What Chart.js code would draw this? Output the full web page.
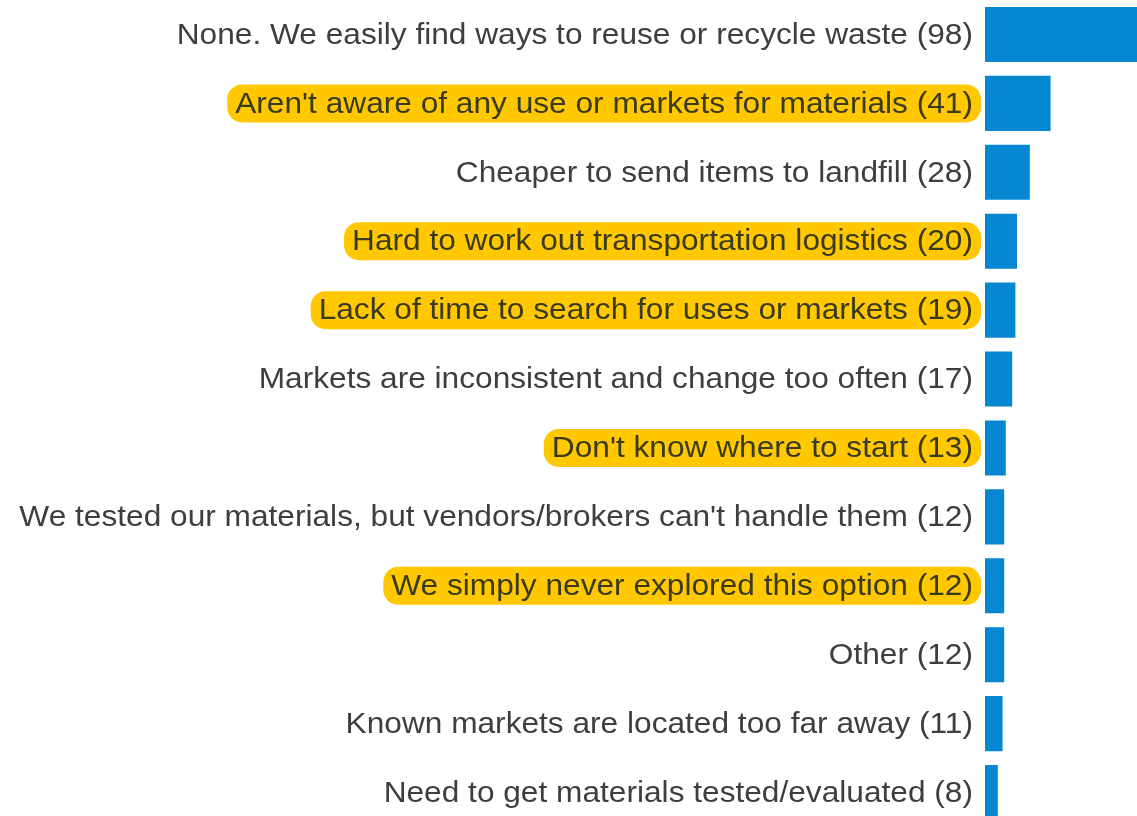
<!DOCTYPE html>
<html>
<head>
<meta charset="utf-8">
<script src="https://cdn.jsdelivr.net/npm/chart.js@4"></script>
<style>
    html, body { margin: 0; padding: 0; background: #fff; overflow: hidden; }
    #box { width: 1145px; height: 827px; }
</style>
</head>
<body>
<div id="box"><canvas id="grafico"></canvas></div>
<script>
var motivos = [
    "None. We easily find ways to reuse or recycle waste (98)",
    "Aren't aware of any use or markets for materials (41)",
    "Cheaper to send items to landfill (28)",
    "Hard to work out transportation logistics (20)",
    "Lack of time to search for uses or markets (19)",
    "Markets are inconsistent and change too often (17)",
    "Don't know where to start (13)",
    "We tested our materials, but vendors/brokers can't handle them (12)",
    "We simply never explored this option (12)",
    "Other (12)",
    "Known markets are located too far away (11)",
    "Need to get materials tested/evaluated (8)"
]
var respostas = [98, 41, 28, 20, 19, 17, 13, 12, 12, 12, 11, 8]
var destacados = [false, true, false, true, true, false, true, false, true, false, false, false]

var fonte = "30px 'Liberation Sans', Arial, sans-serif"
var esticar = 1.055 // o texto do original e um pouco mais largo
var gapLabel = 12

// labels do eixo y desenhados a mao, com o fundo amarelo nos destacados
var pluginLabels = {
    id: 'labels',
    afterDraw: function(chart){
        var ctx = chart.ctx
        var escala = chart.scales.y
        var direita = chart.chartArea.left - gapLabel
        ctx.save()
        ctx.font = fonte
        motivos.forEach(function(m, i){
            var y = escala.getPixelForValue(i)
            var largura = ctx.measureText(m).width * esticar
            if(destacados[i]){
                ctx.fillStyle = '#ffc800'
                ctx.beginPath()
                ctx.roundRect(direita - largura - 8, y - 19, largura + 16, 38, 15)
                ctx.fill()
            }
            ctx.save()
            ctx.translate(direita, y)
            ctx.scale(esticar, 1)
            ctx.fillStyle = destacados[i] ? '#3a3a1e' : '#3d3d42'
            ctx.textAlign = 'right'
            ctx.textBaseline = 'middle'
            ctx.fillText(m, 0, 1)
            ctx.restore()
        })
        ctx.restore()
    }
}

new Chart(document.getElementById('grafico'), {
    type: 'bar',
    data: {
        labels: motivos,
        datasets: [{
            data: respostas,
            backgroundColor: '#0787d2',
            borderWidth: 0,
            categoryPercentage: 1,
            barPercentage: 0.8
        }]
    },
    options: {
        indexAxis: 'y',
        responsive: true,
        maintainAspectRatio: false,
        animation: false,
        layout: { padding: 0 },
        plugins: {
            legend: { display: false },
            tooltip: { enabled: false }
        },
        scales: {
            x: {
                display: false,
                min: 0,
                max: 100
            },
            y: {
                afterFit: function(scale){ scale.width = 985 },
                grid: { display: false, drawTicks: false },
                border: { display: false },
                ticks: { display: false }
            }
        }
    },
    plugins: [pluginLabels]
});
</script>
</body>
</html>
